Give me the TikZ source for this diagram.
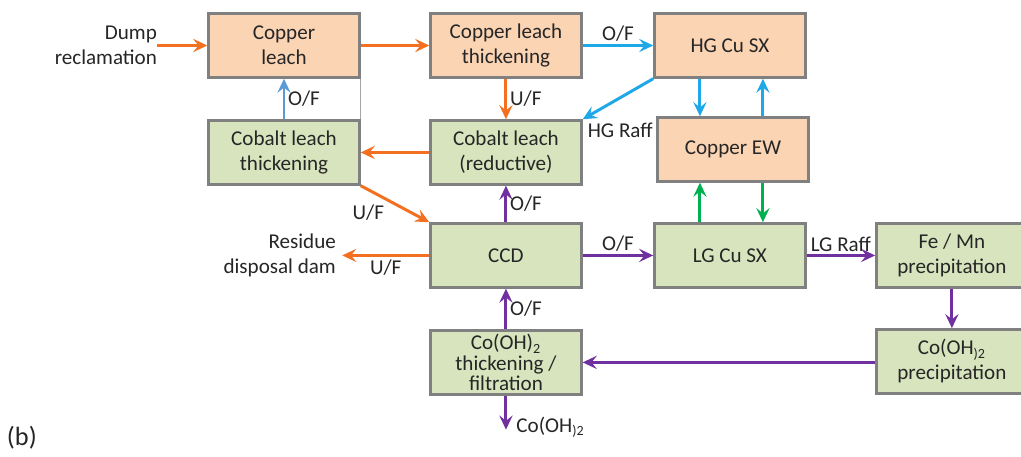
\documentclass[tikz,border=0pt]{standalone}
\usepackage{fontspec}
\setmainfont{Carlito}
\usepackage{tikz}
\usetikzlibrary{arrows.meta,positioning,calc}

\definecolor{cuFill}{HTML}{FBD4B4}
\definecolor{coFill}{HTML}{D7E4BD}
\definecolor{boxLine}{HTML}{808080}
\definecolor{flowOrange}{HTML}{F37021}
\definecolor{flowCyan}{HTML}{1FA8E8}
\definecolor{flowBlue}{HTML}{5B9BD5}
\definecolor{flowGreen}{HTML}{00B050}
\definecolor{flowPurple}{HTML}{7030A0}

\begin{document}
\begin{tikzpicture}[node distance=1cm, auto,
    font=\fontsize{12}{14.2}\selectfont,
    unit/.style={draw=boxLine, line width=1.4pt, rectangle, minimum width=3.02cm, minimum height=1.28cm, align=center, text=black!85},
    cuunit/.style={unit, fill=cuFill},
    counit/.style={unit, fill=coFill},
    lbl/.style={text=black!85, inner sep=1.5pt},
    flow/.style={line width=1.7pt, -{Stealth[length=8pt, width=7.5pt, inset=3pt]}},
    orng/.style={flow, flowOrange},
    cyan/.style={flow, flowCyan},
    blu/.style={flow, flowBlue},
    grn/.style={flow, flowGreen},
    purp/.style={flow, flowPurple}]

    \useasboundingbox (0,0) rectangle (20.42,-9.12);

    % Copper circuit
    \node[cuunit] (cul) at (5.68,-0.91) {Copper\\leach};
    \node[cuunit, right=1.37cm of cul] (clt) {Copper leach\\thickening};
    \node[cuunit, right=1.41cm of clt] (hg) {HG Cu SX};
    \node[cuunit, below=0.75cm of hg, xshift=0.06cm] (ew) {Copper EW};

    % Cobalt circuit
    \node[counit, below=0.81cm of cul] (cot) {Cobalt leach\\thickening};
    \node[counit, below=0.81cm of clt] (clr) {Cobalt leach\\(reductive)};
    \node[counit, below=0.73cm of clr] (ccd) {CCD};
    \node[counit, right=1.41cm of ccd] (lg) {LG Cu SX};
    \node[counit, right=1.37cm of lg] (fem) {Fe / Mn\\precipitation};
    \node[counit, below=0.79cm of fem] (cop) {Co(OH\textsubscript{)2}\\precipitation};
    \node[counit, below=0.81cm of ccd, inner ysep=0pt, font=\fontsize{12}{11.4}\selectfont] (cth) {Co(OH)\textsubscript{2}\\thickening /\\filtration};

    % Feeds and products
    \node[lbl, left=1cm of cul, align=right, inner sep=0pt] (dump) {Dump\\reclamation};
    \node[lbl, left=1.86cm of ccd, align=right, inner sep=0pt] (res) {Residue\\disposal dam};
    \coordinate[below=0.68cm of cth] (cohout);
    \node[lbl, right=0.15cm of cohout, yshift=0.04cm] (coh) {Co(OH\textsubscript{)2}};
    \node[lbl, anchor=south west, font=\fontsize{15}{18}\selectfont] (tag) at (0.08,-9.04) {(b)};

    % Connections
    \draw[orng] (dump.east) -- (cul.west);
    \draw[orng] (cul) -- (clt);
    \draw[cyan] (clt) -- node[lbl, above] {O/F} (hg);
    \draw[orng] (clt) -- node[lbl, right] {U/F} (clr);
    \draw[cyan] (hg.south west) -- (clr.north east) node[lbl, pos=1, anchor=north west, xshift=0.02cm] {HG Raff};
    \draw[cyan] ([xshift=-0.6cm]hg.south) -- ([xshift=-0.66cm]ew.north);
    \draw[cyan] ([xshift=0.6cm]ew.north) -- ([xshift=0.66cm]hg.south);
    \draw[orng] (clr) -- (cot);
    \draw[blu] (cot) -- node[lbl, right] {O/F} (cul);
    \draw[boxLine!70, line width=0.5pt] (cul.south east) -- (cot.north east);
    \draw[orng] (cot.south east) -- node[lbl, pos=0.4, below left] {U/F} (ccd.north west);
    \draw[purp] (ccd) -- node[lbl, right] {O/F} (clr);
    \draw[orng] (ccd) -- node[lbl, below] {U/F} ([xshift=0.12cm]res.east);
    \draw[purp] (ccd) -- node[lbl, above] {O/F} (lg);
    \draw[grn] ([xshift=-0.6cm]lg.north) -- ([xshift=-0.66cm]ew.south);
    \draw[grn] ([xshift=0.6cm]ew.south) -- ([xshift=0.66cm]lg.north);
    \draw[purp] (lg) -- node[lbl, above] {LG Raff} (fem);
    \draw[purp] (fem) -- (cop);
    \draw[purp] (cop.west |- cth.east) -- (cth.east);
    \draw[purp] (cth) -- node[lbl, right] {O/F} (ccd);
    \draw[purp] (cth) -- (cohout);

\end{tikzpicture}
\end{document}
